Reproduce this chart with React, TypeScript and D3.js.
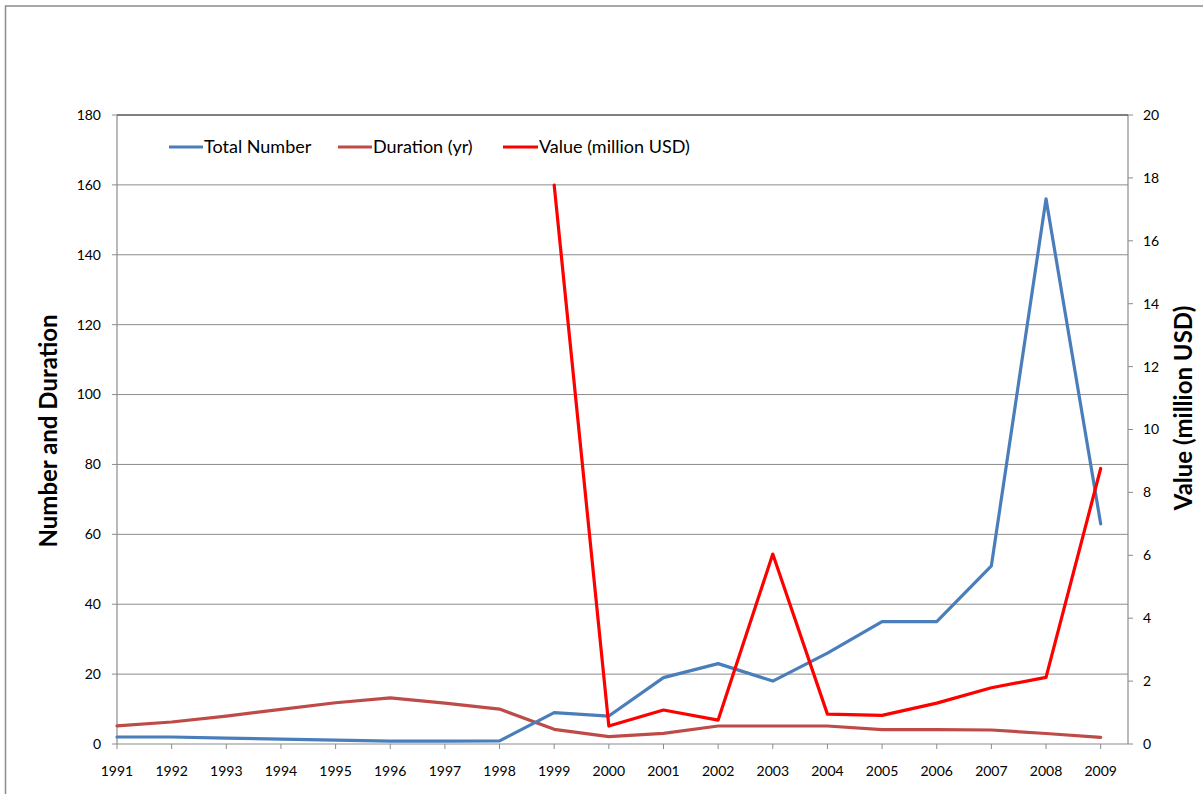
import React from "react";
import * as d3 from "d3";

const years = [1991,1992,1993,1994,1995,1996,1997,1998,1999,2000,2001,2002,2003,2004,2005,2006,2007,2008,2009];
const totalNumber = [2,2,1.7,1.4,1.1,0.8,0.8,0.9,9,8,19,23,18,26,35,35,51,156,63];
const duration = [5.2,6.3,8,9.9,11.8,13.2,11.7,10,4.2,2.1,3.05,5.15,5.15,5.15,4.1,4.1,4.0,3,1.9];
const valueYears = [1999,2000,2001,2002,2003,2004,2005,2006,2007,2008,2009];
const valueMillion = [17.77,0.57,1.08,0.76,6.04,0.95,0.91,1.3,1.79,2.12,8.76];
const leftTicks = [0,20,40,60,80,100,120,140,160,180];
const rightTicks = [0,2,4,6,8,10,12,14,16,18,20];

const FONT = "Lato, 'Open Sans', sans-serif";

export default function App() {
  const left = 117, right = 1128, top = 115, bottom = 744;
  const x = d3.scaleLinear().domain([1991, 2009.5]).range([left, right]);
  const yL = d3.scaleLinear().domain([0, 180]).range([bottom, top]);
  const yR = d3.scaleLinear().domain([0, 20]).range([bottom, top]);

  const lineL = d3.line<number>().x((_, i) => x(years[i])).y(d => yL(d));
  const lineR = d3.line<number>().x((_, i) => x(valueYears[i])).y(d => yR(d));

  const legend = [
    { label: "Total Number", color: "#4a7ebb", x0: 169, x1: 203 },
    { label: "Duration (yr)", color: "#be4b48", x0: 338, x1: 372 },
    { label: "Value (million USD)", color: "#ff0000", x0: 503, x1: 538 },
  ];

  return (
    <svg width={1203} height={794} style={{ position: "absolute", left: 0, top: 0, background: "#fff" }} fontFamily={FONT}>
      <rect x={5.5} y={6} width={1300} height={900} fill="#fff" stroke="#8c8c8c" strokeWidth={1.5} />
      {leftTicks.filter(t => t > 0).map(t => (
        <line key={"g" + t} x1={left} x2={right} y1={yL(t)} y2={yL(t)} stroke="#8c8c8c" strokeWidth={1} />
      ))}
      <line x1={left} x2={left} y1={top} y2={bottom} stroke="#8c8c8c" strokeWidth={1.2} />
      <line x1={right} x2={right} y1={top} y2={bottom} stroke="#8c8c8c" strokeWidth={1.2} />
      <line x1={left} x2={right} y1={bottom} y2={bottom} stroke="#8c8c8c" strokeWidth={1.2} />
      <line x1={left} x2={right} y1={top} y2={top} stroke="#3a3a3a" strokeWidth={1} />
      {leftTicks.map(t => (
        <g key={"l" + t}>
          <line x1={left - 5} x2={left} y1={yL(t)} y2={yL(t)} stroke="#8c8c8c" />
          <text x={101} y={yL(t)} dy="0.35em" textAnchor="end" fontSize={14} fill="#000">{t}</text>
        </g>
      ))}
      {rightTicks.map(t => (
        <g key={"r" + t}>
          <line x1={right} x2={right + 5} y1={yR(t)} y2={yR(t)} stroke="#8c8c8c" />
          <text x={1143} y={yR(t)} dy="0.35em" textAnchor="start" fontSize={14} fill="#000">{t}</text>
        </g>
      ))}
      {years.map(yv => (
        <g key={"x" + yv}>
          <line x1={x(yv)} x2={x(yv)} y1={bottom} y2={bottom + 5} stroke="#8c8c8c" />
          <text x={x(yv)} y={771} dy="0.35em" textAnchor="middle" fontSize={14} fill="#000">{yv}</text>
        </g>
      ))}
      <path d={lineL(duration) || ""} fill="none" stroke="#be4b48" strokeWidth={3.2} strokeLinejoin="round" strokeLinecap="round" />
      <path d={lineL(totalNumber) || ""} fill="none" stroke="#4a7ebb" strokeWidth={3.2} strokeLinejoin="round" strokeLinecap="round" />
      <path d={lineR(valueMillion) || ""} fill="none" stroke="#ff0000" strokeWidth={3.2} strokeLinejoin="round" strokeLinecap="round" />
      {legend.map(l => (
        <g key={l.label}>
          <line x1={l.x0} x2={l.x1} y1={147} y2={147} stroke={l.color} strokeWidth={3.2} />
          <text x={l.x1 + 1} y={147} dy="0.35em" fontSize={18} fill="#000">{l.label}</text>
        </g>
      ))}
      <text transform={`translate(57,431) rotate(-90)`} textAnchor="middle" fontSize={24} fontWeight="bold" fill="#000">Number and Duration</text>
      <text transform={`translate(1192,408) rotate(-90)`} textAnchor="middle" fontSize={24} fontWeight="bold" fill="#000">Value (million USD)</text>
    </svg>
  );
}
